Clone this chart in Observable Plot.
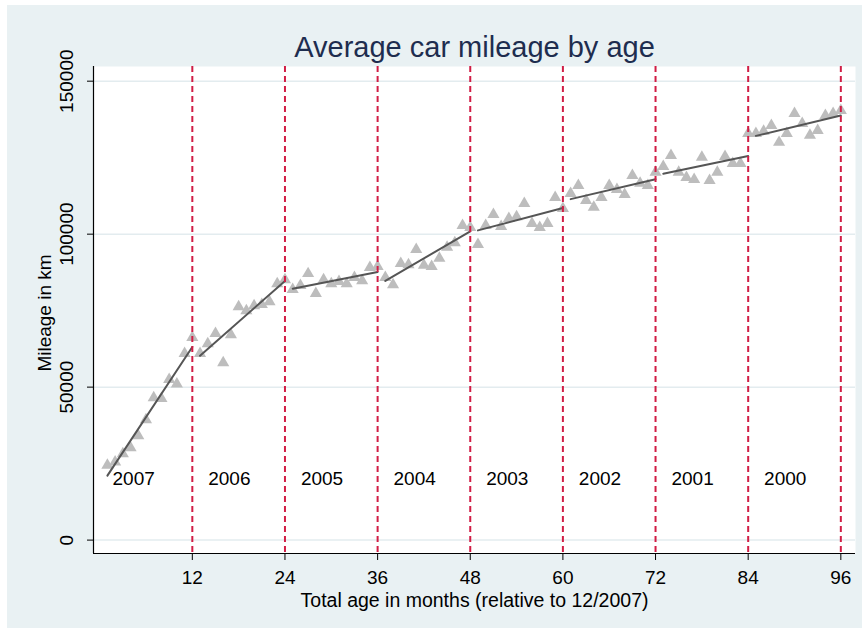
<!DOCTYPE html>
<html>
<head>
<meta charset="utf-8">
<script src="https://cdn.jsdelivr.net/npm/d3@7"></script>
<script src="https://cdn.jsdelivr.net/npm/@observablehq/plot@0.6"></script>
<style>
  html, body { margin: 0; padding: 0; background: #ffffff; }
  #wrap { position: relative; width: 868px; height: 637px; background: #ffffff; overflow: hidden; }
  #bg { position: absolute; left: 7px; top: 5px; width: 855px; height: 623px; background: #e9f1f3; }
  #wrap svg { position: absolute; left: 0; top: 0; }
</style>
</head>
<body>
<div id="wrap"><div id="bg"></div></div>
<script>
// Model years, one per 12-month block (youngest first)
const years = [2007, 2006, 2005, 2004, 2003, 2002, 2001, 2000];

// Average mileage (km) for total ages of 1..96 months
const mileage2007 = [24500, 25500, 28200, 30200, 34100, 39300, 46500, 46300, 52500, 51000, 61000, 66200];
const mileage2006 = [61000, 64200, 67500, 58000, 67100, 76300, 75000, 76600, 77000, 77900, 83800, 85100];
const mileage2005 = [81900, 83200, 87100, 80600, 85100, 83800, 84500, 83800, 85800, 84800, 89100, 89400];
const mileage2004 = [85800, 83500, 90400, 90000, 95000, 89800, 89400, 92100, 95700, 97200, 102800, 102200];
const mileage2003 = [96600, 102800, 106400, 102500, 105100, 105700, 110000, 103500, 102200, 103500, 112000, 108400];
const mileage2002 = [113300, 115900, 111000, 108800, 112000, 115900, 114600, 113000, 119200, 116600, 115900, 120200];
const mileage2001 = [122100, 125700, 120200, 118500, 117900, 125100, 117500, 120200, 125400, 123100, 123100, 132900];
const mileage2000 = [132900, 133600, 135500, 130000, 132900, 139400, 136200, 132300, 133900, 138800, 139400, 140400];

const xTicks = [12, 24, 36, 48, 60, 72, 84, 96];
const yTicks = [0, 50000, 100000, 150000];
const yearLabelMonths = [4.4, 16.8, 28.8, 40.8, 52.8, 64.8, 76.8, 88.8];
const yearLabelMileage = 20000;

const titleText = "Average car mileage by age";
const xTitle = "Total age in months (relative to 12/2007)";
const yTitle = "Mileage in km";

const blocks = [mileage2007, mileage2006, mileage2005, mileage2004, mileage2003, mileage2002, mileage2001, mileage2000];
const data = [];
blocks.forEach((arr, b) => arr.forEach((km, j) => data.push({month: b * 12 + j + 1, km, year: years[b]})));
const yearLabels = years.map((y, i) => ({year: String(y), month: yearLabelMonths[i], km: yearLabelMileage}));

const xDomain = [-0.8, 97.9];
const yDomain = [-4380, 154800];

const chart = Plot.plot({
  width: 868,
  height: 637,
  marginLeft: 93,
  marginRight: 13,
  marginTop: 66,
  marginBottom: 84,
  x: {domain: xDomain},
  y: {domain: yDomain},
  style: {fontFamily: "'Liberation Sans', Arial, Helvetica, sans-serif", background: "transparent", overflow: "visible", color: "#000"},
  marks: [
    Plot.frame({fill: "#ffffff", stroke: "none"}),
    Plot.gridY(yTicks, {stroke: "#e3ecef", strokeOpacity: 1, strokeWidth: 1.5}),
    Plot.dot(data, {x: "month", y: "km", symbol: "triangle", r: 4.5, fill: "#bdbdbd", stroke: "none"}),
    Plot.linearRegressionY(data, {x: "month", y: "km", z: "year", ci: 0, stroke: "#555555", strokeWidth: 2}),
    Plot.ruleX(xTicks, {stroke: "#d11d45", strokeWidth: 2, strokeDasharray: "6,4"}),
    Plot.text(yearLabels, {x: "month", y: "km", text: "year", fontSize: 19, fill: "#000"}),
    Plot.ruleX([xDomain[0]], {stroke: "#000", strokeWidth: 1.2}),
    Plot.ruleY([yDomain[0]], {stroke: "#000", strokeWidth: 1.2}),
    Plot.axisY(yTicks, {tickSize: 6, tickFormat: () => "", label: null, stroke: "#000"}),
    Plot.text(yTicks, {y: d => d, frameAnchor: "left", dx: -26.5, rotate: -90, textAnchor: "middle", lineAnchor: "middle", text: d => String(d), fontSize: 19, fill: "#000"}),
    Plot.axisX(xTicks, {tickSize: 7, tickPadding: 10, fontSize: 19, label: null, stroke: "#000"}),
    Plot.text([titleText], {frameAnchor: "top", dy: -18.6, textAnchor: "middle", lineAnchor: "middle", text: d => d, fontSize: 29, fill: "#1e2d4f"}),
    Plot.text([yTitle], {frameAnchor: "left", dx: -49, dy: 3, rotate: -90, textAnchor: "middle", lineAnchor: "middle", text: d => d, fontSize: 19, fill: "#000"}),
    Plot.text([xTitle], {frameAnchor: "bottom", dy: 47, textAnchor: "middle", lineAnchor: "middle", text: d => d, fontSize: 19.5, fill: "#000"})
  ]
});
document.getElementById("wrap").appendChild(chart);
</script>
</body>
</html>
